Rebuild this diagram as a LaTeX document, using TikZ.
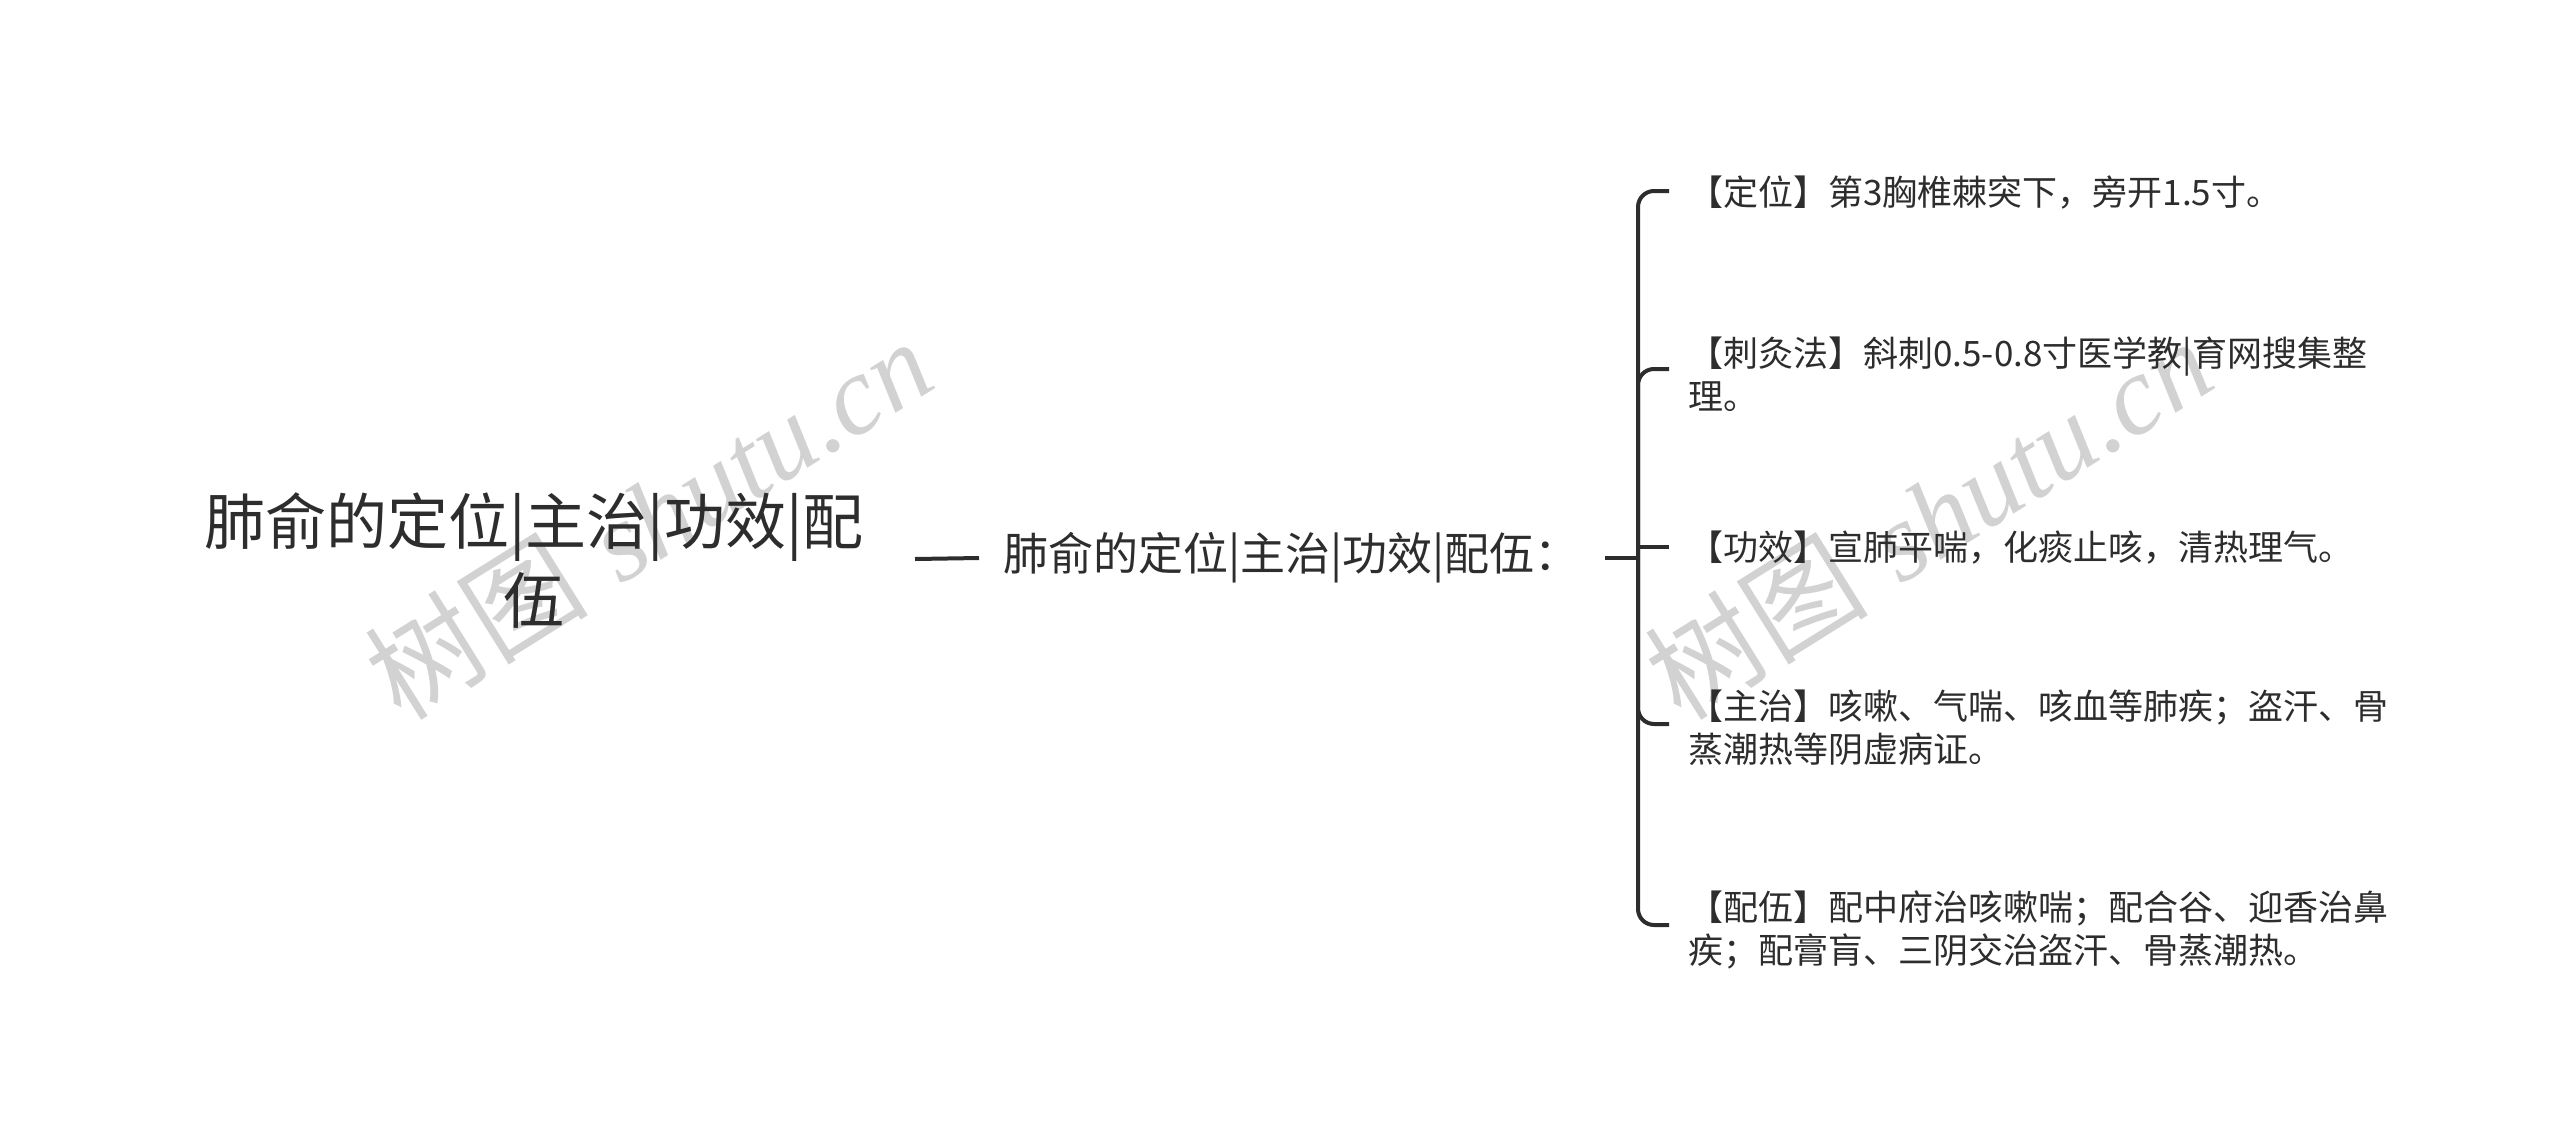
\documentclass[tikz,border=0pt]{standalone}
\usepackage{fontspec}
\newfontfamily\cjk{Noto Sans CJK SC}
\newfontfamily\wmfont{Liberation Serif}
\definecolor{ink}{HTML}{2D2D2D}
\definecolor{wm}{HTML}{D2D2D2}
\begin{document}
\begin{tikzpicture}[x=0.5pt,y=-0.5pt,
  conn/.style={draw=ink,line width=2pt},
  branch/.style={draw=ink,line width=2pt,rounded corners=8pt},
  rootbox/.style={text=ink,inner sep=0pt,align=center,font=\cjk\fontsize{30.5pt}{39.5pt}\selectfont},
  midbox/.style={text=ink,inner xsep=12pt,inner ysep=0pt,anchor=west,font=\cjk\fontsize{22.5pt}{27pt}\selectfont},
  leafbox/.style={text=ink,inner xsep=9.5pt,inner ysep=0pt,anchor=west,align=left,font=\cjk\fontsize{17.5pt}{21.5pt}\selectfont},
  wmark/.style={text=wm,rotate=32,inner sep=0pt,font=\fontsize{56pt}{60pt}\selectfont}]
\useasboundingbox (0,0) rectangle (2560,1141);

% watermarks
\node[wmark] (w1) at (648,518) {{\cjk 树图} {\wmfont\itshape shutu.cn}};
\node[wmark] (w2) at (1928,518) {{\cjk 树图} {\wmfont\itshape shutu.cn}};

% root and middle nodes
\node[rootbox] (root) at (534,561) {肺俞的定位|主治|功效|配\\伍};
\node[midbox] (mid) at (979,558) {肺俞的定位|主治|功效|配伍：};

% leaves
\node[leafbox] (c1) at (1669,193) {【定位】第3胸椎棘突下，旁开1.5寸。};
\node[leafbox] (c2) at (1669,374) {【刺灸法】斜刺0.5-0.8寸医学教|育网搜集整\\理。};
\node[leafbox] (c3) at (1669,548) {【功效】宣肺平喘，化痰止咳，清热理气。};
\node[leafbox] (c4) at (1669,728) {【主治】咳嗽、气喘、咳血等肺疾；盗汗、骨\\蒸潮热等阴虚病证。};
\node[leafbox] (c5) at (1669,930) {【配伍】配中府治咳嗽喘；配合谷、迎香治鼻\\疾；配膏肓、三阴交治盗汗、骨蒸潮热。};

% connector coordinates
\coordinate (l1) at (915,559);
\coordinate (s0) at (1605,558);
\coordinate (j) at (1638,558);
\coordinate (b1) at (1669,191);
\coordinate (b2) at (1669,369);
\coordinate (b3) at (1669,547);
\coordinate (b4) at (1669,724);
\coordinate (b5) at (1669,925);

% connectors
\draw[conn] (l1) -- (mid.west);
\draw[conn] (s0) -- (j);
\draw[branch] (j) |- (b1);
\draw[branch] (j) |- (b2);
\draw[conn] (j |- b3) -- (b3);
\draw[branch] (j) |- (b4);
\draw[branch] (j) |- (b5);
\end{tikzpicture}
\end{document}
